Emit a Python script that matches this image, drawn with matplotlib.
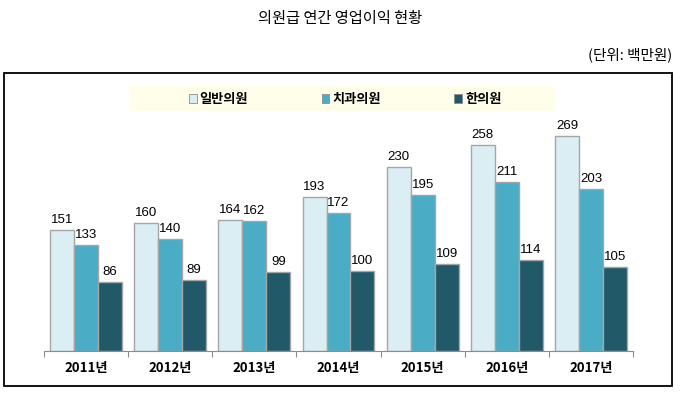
import matplotlib
matplotlib.use("Agg")
import matplotlib.pyplot as plt
from matplotlib.patches import Patch
import numpy as np

plt.rcParams["font.family"] = ["Noto Sans CJK KR", "DejaVu Sans"]

years = ["2011년", "2012년", "2013년", "2014년", "2015년", "2016년", "2017년"]
series_names = ["일반의원", "치과의원", "한의원"]
general = [151, 160, 164, 193, 230, 258, 269]
dental = [133, 140, 162, 172, 195, 211, 203]
oriental = [86, 89, 99, 100, 109, 114, 105]
colors = ["#DAEEF3", "#4BACC6", "#215968"]

fig = plt.figure(figsize=(6.8, 3.95), dpi=100)
ax = fig.add_axes([44 / 680, 44 / 395, 589 / 680, 240 / 395])

x = np.arange(len(years))
width = 0.285
for i, (vals, c) in enumerate(zip([general, dental, oriental], colors)):
    pos = x + (i - 1) * width
    ax.bar(pos, vals, width, color=c, edgecolor="#A5A5A5", linewidth=1.0)
    for p, v in zip(pos, vals):
        ax.text(p, v + 5, str(v), ha="center", va="bottom", fontsize=9.5,
                family=["Liberation Sans", "DejaVu Sans"])

ax.set_xlim(-0.5, len(years) - 0.5)
ax.set_ylim(0, 300)
ax.set_yticks([])
for s in ["left", "right", "top"]:
    ax.spines[s].set_visible(False)
ax.spines["bottom"].set_color("#8C8C8C")
ax.set_xticks(np.arange(len(years) + 1) - 0.5)
ax.set_xticklabels([])
ax.tick_params(axis="x", which="major", length=4, color="#8C8C8C", direction="out")
ax.set_xticks(x, minor=True)
ax.set_xticklabels(years, minor=True, fontsize=9.5, fontweight="bold")
ax.tick_params(axis="x", which="minor", length=0, pad=7)

# yellow legend band
fig.add_artist(plt.Rectangle((130 / 680, 1 - 112 / 395), 425 / 680, 26 / 395,
                             transform=fig.transFigure, facecolor="#FEFEEA",
                             edgecolor="none", zorder=0))
handles = [Patch(facecolor=c, edgecolor="#8C8C8C", linewidth=0.6) for c in colors]
fig.legend(handles, series_names, loc="center", bbox_to_anchor=(345 / 680, 1 - 99 / 395),
           ncol=3, frameon=False, handlelength=0.6, handleheight=0.6,
           handletextpad=0.2, columnspacing=5.6, borderaxespad=0,
           prop={"weight": "bold", "size": 9.5})

fig.add_artist(plt.Rectangle((4 / 680, 9 / 395), 668 / 680, 313 / 395, transform=fig.transFigure,
                             fill=False, edgecolor="black", linewidth=1.3))

fig.text(340 / 680, 1 - 18 / 395, "의원급 연간 영업이익 현황", ha="center", va="center", fontsize=11)
fig.text(672 / 680, 1 - 55 / 395, "(단위: 백만원)", ha="right", va="center", fontsize=10.5)

fig.savefig("out.png", dpi=100)
